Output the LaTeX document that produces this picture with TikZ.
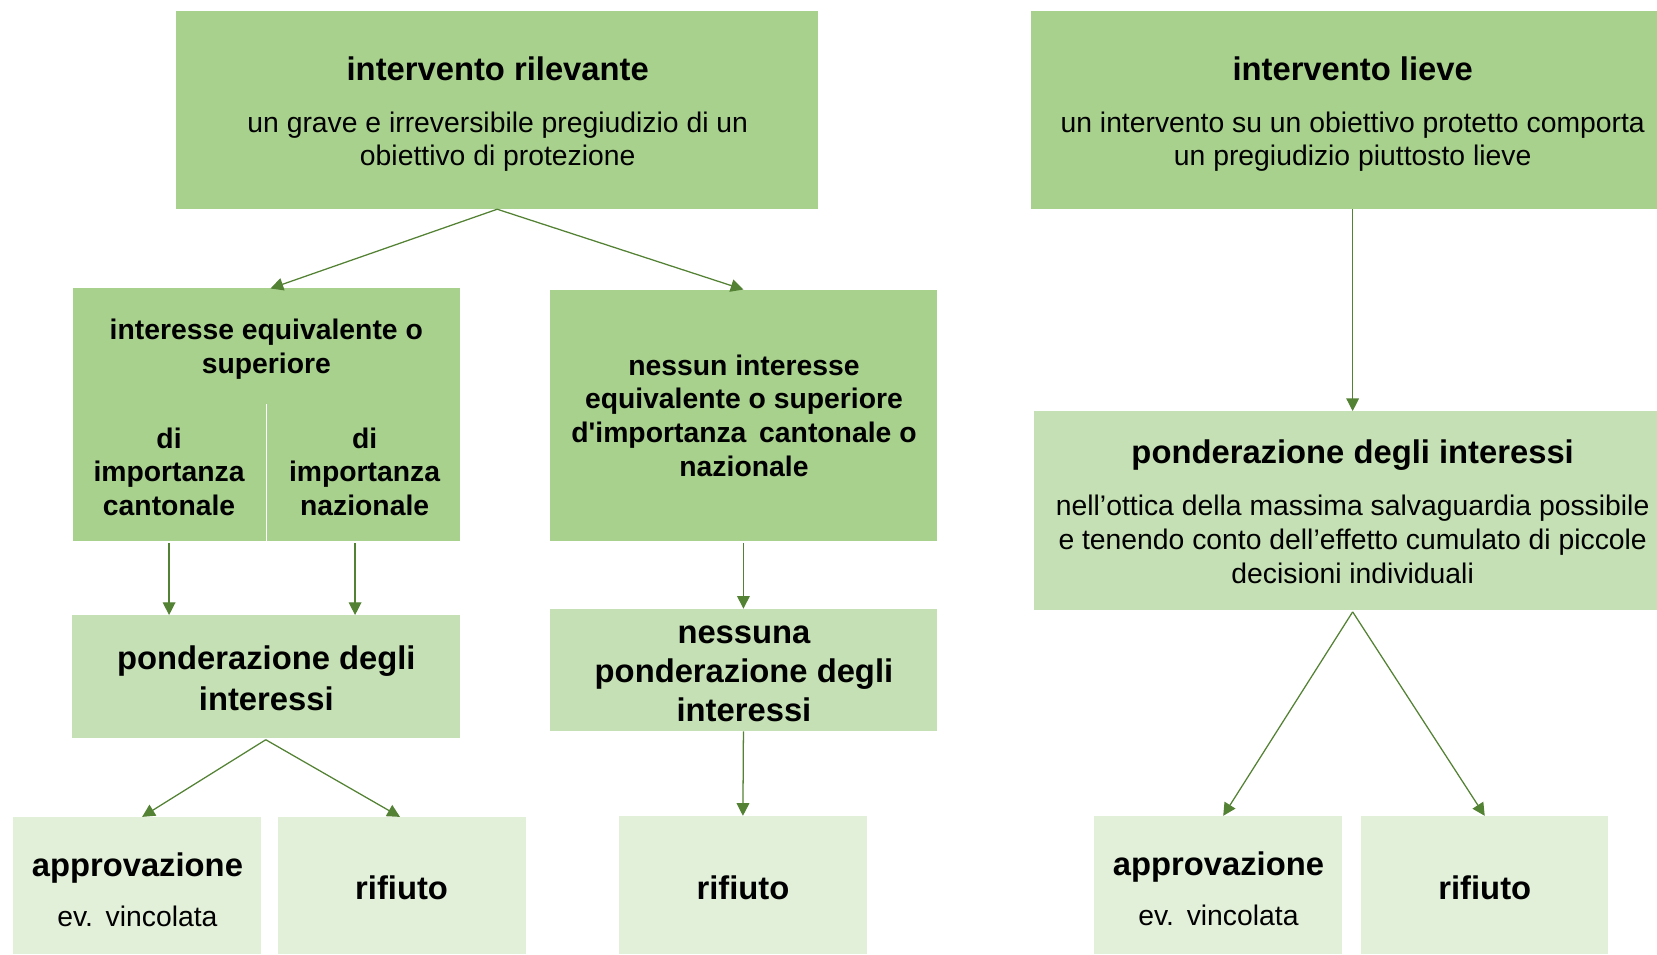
\documentclass[tikz,border=0pt]{standalone}
\usepackage{fontspec}
\setmainfont{Liberation Sans}
\usetikzlibrary{arrows.meta,fit}
\definecolor{gdark}{HTML}{A9D18E}
\definecolor{gmid}{HTML}{C5E0B4}
\definecolor{glight}{HTML}{E2F0D9}
\definecolor{garrow}{HTML}{548235}
\begin{document}
\begin{tikzpicture}[x=0.5pt,y=-0.5pt,
  box/.style={inner sep=0pt, outer sep=0pt, draw=none, fill=#1, rectangle},
  big/.style={font=\fontsize{15.5}{18}\selectfont\bfseries, inner sep=0pt, anchor=base},
  medb/.style={font=\fontsize{13.4}{16}\selectfont\bfseries, inner sep=0pt, anchor=base},
  med/.style={font=\fontsize{13.4}{16}\selectfont, inner sep=0pt, anchor=base},
  arr/.style={draw=garrow, line width=0.6pt, -{Triangle[width=6pt,length=6pt]}}]
\clip (0,0) rectangle (1568,903);
% boxes
\node[box=gdark, fit={(167,10) (774,198)}] (A) {};
\node[box=gdark, fit={(976,10) (1584,198)}] (B) {};
\node[box=gdark, fit={(69,273) (435,512)}] (C) {};
\node[box=gdark, fit={(520,274) (887,512)}] (D) {};
\node[box=gmid, fit={(68,582) (435,698)}] (E) {};
\node[box=gmid, fit={(520,576) (887,692)}] (F) {};
\node[box=gmid, fit={(978,389) (1582,577)}] (J) {};
\node[box=glight, fit={(12,773) (247,903)}] (G) {};
\node[box=glight, fit={(263,773) (498,903)}] (H) {};
\node[box=glight, fit={(586,772) (820,903)}] (I) {};
\node[box=glight, fit={(1035,772) (1270,903)}] (K) {};
\node[box=glight, fit={(1288,772) (1522,903)}] (L) {};
% split line in C
\draw[white, line width=0.7pt] (C.south) -- ++(0,-130);
% texts
\node[big] (a1) at (471,76) {intervento rilevante};
\node[med] (a2) at (471,125) {un grave e irreversibile pregiudizio di un};
\node[med] (a3) at (471,157) {obiettivo di protezione};
\node[big] (b1) at (1280,76) {intervento lieve};
\node[med] (b2) at (1280,125) {un intervento su un obiettivo protetto comporta};
\node[med] (b3) at (1280,157) {un pregiudizio piuttosto lieve};
\node[medb] (c1) at (252,321) {interesse equivalente o};
\node[medb] (c2) at (252,353) {superiore};
\node[medb] (c3) at (160,424) {di};
\node[medb] (c4) at (160,456) {importanza};
\node[medb] (c5) at (160,488) {cantonale};
\node[medb] (c6) at (345,424) {di};
\node[medb] (c7) at (345,456) {importanza};
\node[medb] (c8) at (345,488) {nazionale};
\node[medb] (d1) at (704,355) {nessun interesse};
\node[medb] (d2) at (704,387) {equivalente o superiore};
\node[medb] (d3) at (704,419) {d\textquotesingle importanza\hspace{0.45em}cantonale o};
\node[medb] (d4) at (704,451) {nazionale};
\node[big] (e1) at (252,634) {ponderazione degli};
\node[big] (e2) at (252,672) {interessi};
\node[big] (f1) at (704,609) {nessuna};
\node[big] (f2) at (704,646) {ponderazione degli};
\node[big] (f3) at (704,683) {interessi};
\node[big] (g1) at (130,829) {approvazione};
\node[med] (g2) at (130,877) {ev.\hspace{0.45em}vincolata};
\node[big] (h1) at (380,851) {rifiuto};
\node[big] (i1) at (703,851) {rifiuto};
\node[big] (j1) at (1280,439) {ponderazione degli interessi};
\node[med] (j2) at (1280,488) {nell’ottica della massima salvaguardia possibile};
\node[med] (j3) at (1280,520) {e tenendo conto dell’effetto cumulato di piccole};
\node[med] (j4) at (1280,552) {decisioni individuali};
\node[big] (k1) at (1153,828) {approvazione};
\node[med] (k2) at (1153,876) {ev.\hspace{0.45em}vincolata};
\node[big] (l1) at (1405,851) {rifiuto};
% connectors
\draw[arr] (A.south) -- ([xshift=2pt]C.north);
\draw[arr] (A.south) -- (D.north);
\draw[arr] ([xshift=-46pt,yshift=-1pt]C.south) -- ([xshift=-46pt]C.south |- E.north);
\draw[arr] ([xshift=42pt,yshift=-1pt]C.south) -- ([xshift=42pt]C.south |- E.north);
\draw[arr] ([yshift=-1pt]D.south) -- (F.north);
\draw[arr] ([yshift=-1pt]E.south) -- ([xshift=2.5pt]G.north);
\draw[arr] ([yshift=-1pt]E.south) -- ([xshift=-1pt]H.north);
\draw[arr] (F.south) -- (I.north);
\draw[arr] (B.south) -- (J.north);
\draw[arr] ([yshift=-1pt]J.south) -- ([xshift=2.5pt]K.north);
\draw[arr] ([yshift=-1pt]J.south) -- (L.north);
\end{tikzpicture}
\end{document}
